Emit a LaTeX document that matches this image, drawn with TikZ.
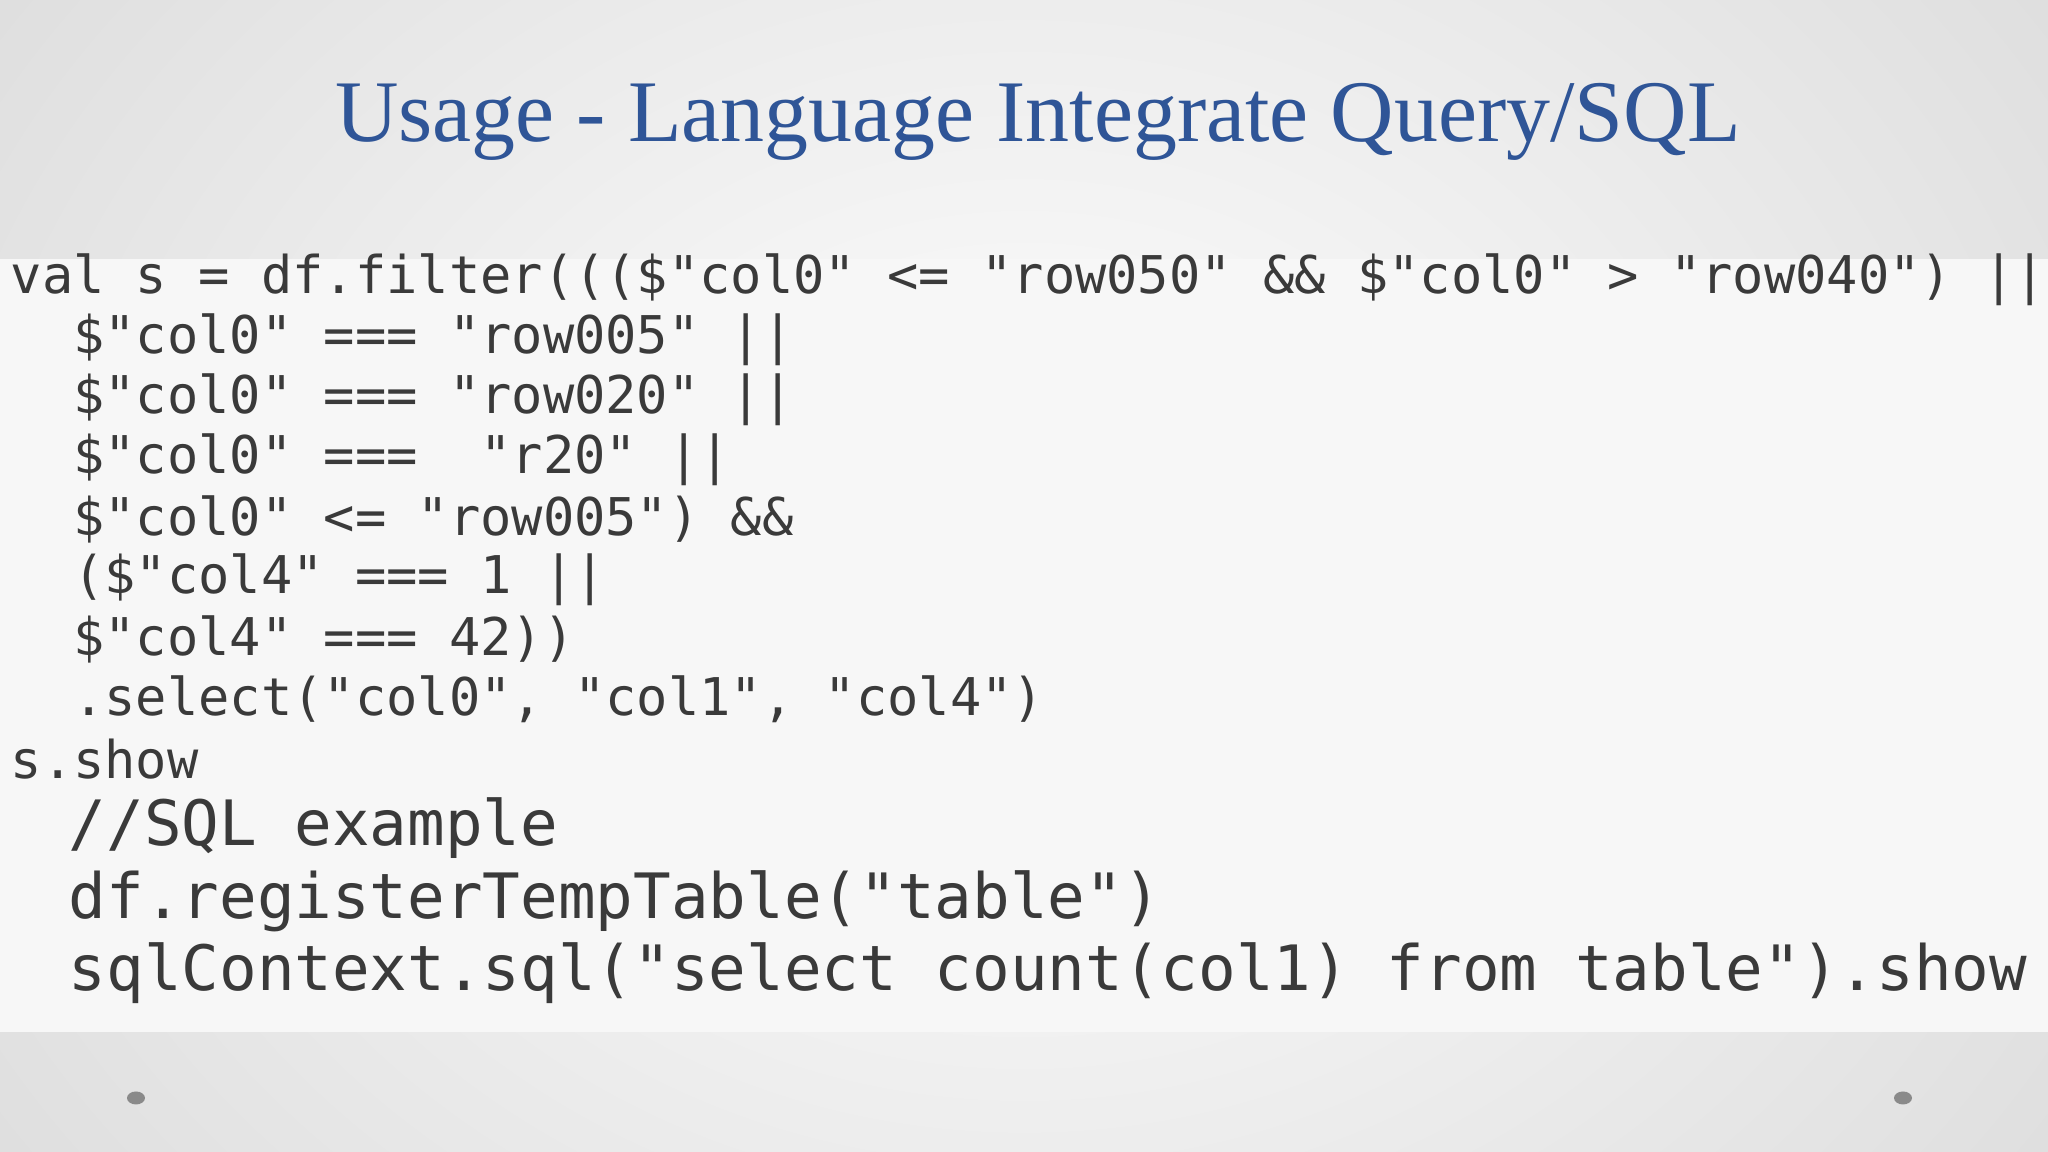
\documentclass[tikz,border=0pt]{standalone}
\usepackage{fontspec}
\setmainfont{Liberation Serif}
\setmonofont{DejaVu Sans Mono}
\definecolor{titleblue}{HTML}{2F5597}
\definecolor{codegray}{HTML}{3A3A3A}
\definecolor{boxbg}{HTML}{F7F7F7}
\definecolor{edgegray}{HTML}{DADADA}
\definecolor{dotgray}{HTML}{8A8A8A}
\tikzset{
  codeA/.style={anchor=west, inner sep=0pt, text=codegray, font=\ttfamily\fontsize{14.8}{14.8}\selectfont},
  codeB/.style={anchor=west, inner sep=0pt, text=codegray, font=\ttfamily\fontsize{17.8}{17.8}\selectfont},
  slidedot/.style={fill=dotgray, draw=none}
}
\begin{document}
\begin{tikzpicture}
\useasboundingbox (0,0) rectangle (20.48,11.52);
\fill[edgegray] (0,0) rectangle (20.48,11.52);
\shade[inner color=white, outer color=edgegray] (-4,-6) rectangle (24.48,17.52);
\fill[boxbg] (0,1.20) rectangle (20.48,8.93);
\node[text=titleblue, font=\fontsize{25}{25}\selectfont] (title) at (10.38,10.30) {Usage - Language Integrate Query/SQL};
\node[codeA] (l1) at (0.10,8.725) {val~s~=~df.filter(((\$"col0"~<=~"row050"~\&\&~\$"col0"~>~"row040")~{|}{|}};
\node[codeA] (l2) at (0.10,8.125) {~~\$"col0"~===~"row005"~{|}{|}};
\node[codeA] (l3) at (0.10,7.525) {~~\$"col0"~===~"row020"~{|}{|}};
\node[codeA] (l4) at (0.10,6.925) {~~\$"col0"~===~~"r20"~{|}{|}};
\node[codeA] (l5) at (0.10,6.325) {~~\$"col0"~<=~"row005")~\&\&};
\node[codeA] (l6) at (0.10,5.725) {~~(\$"col4"~===~1~{|}{|}};
\node[codeA] (l7) at (0.10,5.125) {~~\$"col4"~===~42))};
\node[codeA] (l8) at (0.10,4.525) {~~.select("col0",~"col1",~"col4")};
\node[codeA] (l9) at (0.10,3.925) {s.show};
\node[codeB] (m1) at (0.68,3.24) {//SQL~example};
\node[codeB] (m2) at (0.68,2.51) {df.registerTempTable("table")};
\node[codeB] (m3) at (0.68,1.79) {sqlContext.sql("select~count(col1)~from~table").show};
\fill[slidedot] (1.36,0.54) ellipse (0.09 and 0.065);
\fill[slidedot] (19.03,0.54) ellipse (0.09 and 0.065);
\end{tikzpicture}
\end{document}
